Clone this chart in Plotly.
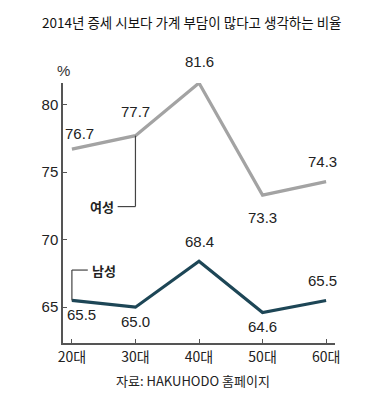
import plotly.graph_objects as go

categories = ["20대", "30대", "40대", "50대", "60대"]
female = [76.7, 77.7, 81.6, 73.3, 74.3]
male = [65.5, 65.0, 68.4, 64.6, 65.5]
y_ticks = [65, 70, 75, 80]

x = list(range(len(categories)))
GRAY = "#a3a3a3"
TEAL = "#1d4656"
AX = "#555555"
KFONT = "Noto Sans CJK KR, Liberation Sans, sans-serif"
NFONT = "Liberation Sans Narrow, Liberation Sans, Arial, sans-serif"

fig = go.Figure()
fig.add_trace(go.Scatter(x=x, y=female, mode="lines", line=dict(color=GRAY, width=3.2),
                         hoverinfo="skip", showlegend=False))
fig.add_trace(go.Scatter(x=x, y=male, mode="lines", line=dict(color=TEAL, width=3.2),
                         hoverinfo="skip", showlegend=False))

# value labels
f_pos = [(8, -16), (0, -24), (0, -22), (0, 22), (-4, -20)]
m_pos = [(10, 14), (0, 14), (0, -20), (0, 14), (-4, -20)]
for i in x:
    dx, dy = f_pos[i]
    fig.add_annotation(x=i, y=female[i], text=f"{female[i]:.1f}", showarrow=False,
                       xshift=dx, yshift=-dy, font=dict(size=15, color="#222", family=NFONT))
    dx, dy = m_pos[i]
    fig.add_annotation(x=i, y=male[i], text=f"{male[i]:.1f}", showarrow=False,
                       xshift=dx, yshift=-dy, font=dict(size=15, color="#222", family=NFONT))

# callouts
f_y = 72.45
fig.add_shape(type="line", x0=1, x1=1, y0=female[1], y1=f_y, line=dict(color="#444", width=1.2))
fig.add_shape(type="line", x0=1, x1=0.72, y0=f_y, y1=f_y, line=dict(color="#444", width=1.2))
fig.add_annotation(x=0.72, y=f_y, text="<b>여성</b>", showarrow=False, xanchor="right", xshift=-2,
                   font=dict(size=13, color="#222", family=KFONT))
m_y = 67.75
fig.add_shape(type="line", x0=0, x1=0, y0=male[0], y1=m_y, line=dict(color="#444", width=1.2))
fig.add_shape(type="line", x0=0, x1=0.25, y0=m_y, y1=m_y, line=dict(color="#444", width=1.2))
fig.add_annotation(x=0.25, y=m_y, text="<b>남성</b>", showarrow=False, xanchor="left", xshift=2,
                   font=dict(size=13, color="#222", family=KFONT))

# % label
fig.add_annotation(xref="paper", yref="paper", x=0, y=1, text="%", showarrow=False,
                   xshift=-8, yshift=2, yanchor="bottom", font=dict(size=15, color="#333", family=NFONT))

# title & source
fig.add_annotation(xref="paper", yref="paper", x=0.474, y=1, yshift=61,
                   text="2014년 증세 시보다 가계 부담이 많다고 생각하는 비율",
                   showarrow=False, yanchor="middle", font=dict(size=13.5, color="#111", family=KFONT))
fig.add_annotation(xref="paper", yref="paper", x=0.478, y=0, yshift=-37, text="자료: HAKUHODO 홈페이지",
                   showarrow=False, yanchor="middle", font=dict(size=13, color="#222", family=KFONT))

fig.update_xaxes(range=[-0.14, 4.14], tickvals=x, ticktext=categories, showline=True,
                 linecolor=AX, linewidth=1.5, ticks="inside", ticklen=4, tickcolor=AX,
                 showgrid=False, zeroline=False, tickfont=dict(size=14, color="#222", family=KFONT))
fig.update_yaxes(range=[62.35, 81.6], tickvals=y_ticks, showline=True,
                 linecolor=AX, linewidth=1.5, ticks="inside", ticklen=4, tickcolor=AX,
                 showgrid=False, zeroline=False, tickfont=dict(size=15, color="#222", family=NFONT))

fig.update_layout(width=370, height=396, margin=dict(l=55, r=43, t=75, b=61),
                  plot_bgcolor="white", paper_bgcolor="white")
fig.write_html("out.html")
